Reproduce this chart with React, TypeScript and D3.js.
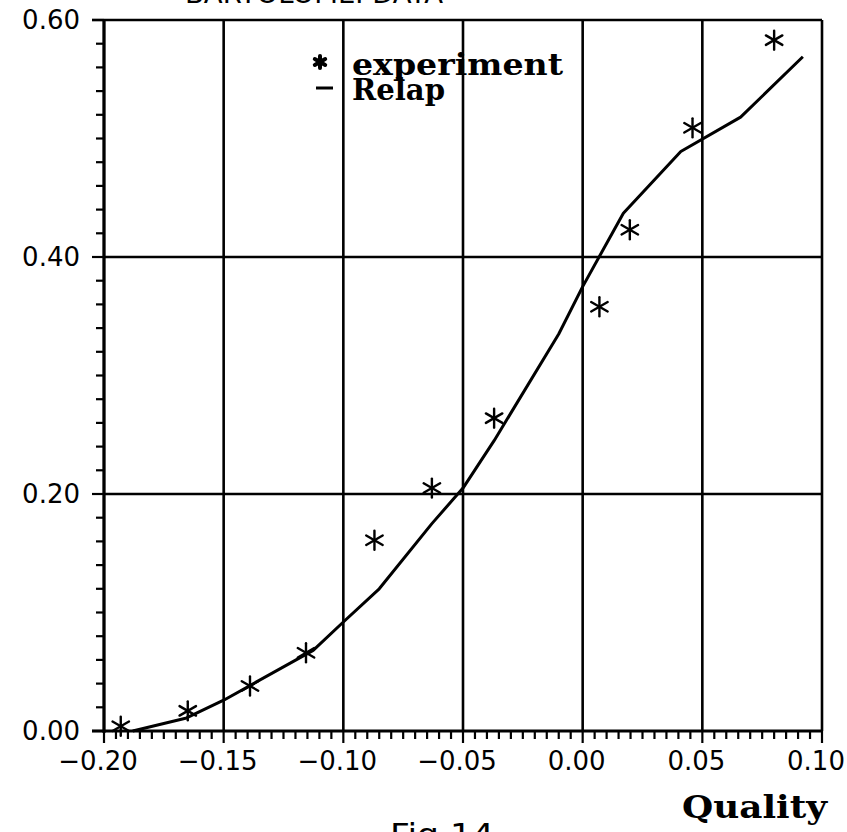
import React from "react";
import * as d3 from "d3";

// Experiment (asterisks)
const expQuality = [-0.193, -0.165, -0.139, -0.1156, -0.087, -0.063, -0.037, 0.007, 0.0197, 0.0459, 0.08];
const expValue = [0.004, 0.017, 0.038, 0.066, 0.161, 0.205, 0.264, 0.358, 0.423, 0.509, 0.583];

// Relap (solid line)
const relapQuality = [-0.188, -0.1655, -0.15, -0.1126, -0.1, -0.085, -0.063, -0.05, -0.037, -0.01, 0.0, 0.017, 0.041, 0.066, 0.092];
const relapValue = [0.0, 0.011, 0.026, 0.068, 0.092, 0.12, 0.175, 0.205, 0.245, 0.335, 0.375, 0.437, 0.489, 0.518, 0.569];

const xMajor = [-0.2, -0.15, -0.1, -0.05, 0.0, 0.05, 0.1];
const yMajor = [0.0, 0.2, 0.4, 0.6];
const yGrid = [0.2, 0.4];
const titleText = "BARTOLOMEI DATA";
const xLabel = "Quality";
const caption = "Fig.14";
const legendItems = ["experiment", "Relap"];

const W = 847;
const H = 832;
const L = 104, R = 822, T = 20, B = 731;

const fmt = (v: number) => {
  const s = Math.abs(v).toFixed(2);
  return v < -1e-9 ? "\u2212" + s : s;
};

function Asterisk({ cx, cy, r, sw }: { cx: number; cy: number; r: number; sw: number }) {
  const angles = [90, 30, -30];
  return (
    <g stroke="#000" strokeWidth={sw} strokeLinecap="round">
      {angles.map((a) => {
        const rad = (a * Math.PI) / 180;
        const dx = Math.cos(rad) * r;
        const dy = Math.sin(rad) * r;
        return <line key={a} x1={cx - dx} y1={cy - dy} x2={cx + dx} y2={cy + dy} />;
      })}
    </g>
  );
}

export default function App() {
  const x = d3.scaleLinear().domain([-0.2, 0.1]).range([L, R]);
  const y = d3.scaleLinear().domain([0, 0.6]).range([B, T]);
  const xMinor = d3.range(0, 61).map((i) => -0.2 + i * 0.005);
  const yMinor = d3.range(0, 31).map((i) => i * 0.02);
  const line = d3
    .line<number>()
    .x((d, i) => x(relapQuality[i]))
    .y((d) => y(d));

  const sans = "'DejaVu Sans', Arial, sans-serif";
  const serif = "'DejaVu Serif', 'Liberation Serif', serif";

  return (
    <svg
      width={W}
      height={H}
      viewBox={`0 0 ${W} ${H}`}
      style={{ position: "absolute", left: 0, top: 0, background: "#fff" }}
    >
      <rect x={0} y={0} width={W} height={H} fill="#fff" />
      {/* title, cut off at the top */}
      <text x={185} y={2.5} fontFamily={sans} fontSize={26} textLength={258} lengthAdjust="spacingAndGlyphs">
        {titleText}
      </text>

      {/* vertical grid lines */}
      {xMajor.map((v) => (
        <line key={"gx" + v} x1={x(v)} x2={x(v)} y1={y(0.6)} y2={y(0)} stroke="#000" strokeWidth={2.6} />
      ))}
      {/* horizontal grid lines */}
      {yGrid.map((v) => (
        <line key={"gy" + v} x1={x(-0.2)} x2={x(0.1)} y1={y(v)} y2={y(v)} stroke="#000" strokeWidth={2.4} />
      ))}
      {/* top border */}
      <line x1={x(-0.2) - 12} x2={x(0.1)} y1={y(0.6)} y2={y(0.6)} stroke="#000" strokeWidth={2.6} />
      {/* axes */}
      <line x1={x(-0.2)} x2={x(-0.2)} y1={y(0.6)} y2={y(0) + 2} stroke="#000" strokeWidth={3} />
      <line x1={x(-0.2) - 12} x2={x(0.1) + 1} y1={y(0)} y2={y(0)} stroke="#000" strokeWidth={3} />

      {/* y minor ticks */}
      {yMinor.map((v, i) => (
        <line
          key={"ym" + i}
          x1={x(-0.2) - (i % 10 === 0 ? 12 : 8)}
          x2={x(-0.2)}
          y1={y(v)}
          y2={y(v)}
          stroke="#000"
          strokeWidth={2.2}
        />
      ))}
      {/* x minor ticks */}
      {xMinor.map((v, i) => (
        <line
          key={"xm" + i}
          x1={x(v)}
          x2={x(v)}
          y1={y(0)}
          y2={y(0) + (i % 10 === 0 ? 12 : 8)}
          stroke="#000"
          strokeWidth={2.2}
        />
      ))}

      {/* y labels */}
      {yMajor.map((v) => (
        <text
          key={"yl" + v}
          x={80}
          y={y(v)}
          textAnchor="end"
          dominantBaseline="central"
          fontFamily={sans}
          fontSize={26}
        >
          {fmt(v)}
        </text>
      ))}
      {/* x labels */}
      {xMajor.map((v) => (
        <text key={"xl" + v} x={x(v) - 6} y={770} textAnchor="middle" fontFamily={sans} fontSize={26}>
          {fmt(v)}
        </text>
      ))}

      {/* Relap line */}
      <path d={line(relapValue) || ""} fill="none" stroke="#000" strokeWidth={3} strokeLinejoin="round" />

      {/* experiment markers */}
      {expValue.map((v, i) => (
        <Asterisk key={"e" + i} cx={x(expQuality[i])} cy={y(v)} r={9.5} sw={2.4} />
      ))}

      {/* legend */}
      <Asterisk cx={320} cy={62} r={6} sw={4} />
      <text x={352} y={75} fontFamily={serif} fontWeight="bold" fontSize={30} textLength={211} lengthAdjust="spacingAndGlyphs">
        {legendItems[0]}
      </text>
      <line x1={316} x2={333} y1={88} y2={88} stroke="#000" strokeWidth={3} />
      <text x={352} y={100} fontFamily={serif} fontWeight="bold" fontSize={30} textLength={93} lengthAdjust="spacingAndGlyphs">
        {legendItems[1]}
      </text>

      {/* x axis title */}
      <text x={682} y={818} fontFamily={serif} fontWeight="bold" fontSize={32} textLength={145} lengthAdjust="spacingAndGlyphs">
        {xLabel}
      </text>
      {/* caption, cut off at the bottom */}
      <text x={390} y={845} fontFamily={sans} fontSize={30} textLength={104} lengthAdjust="spacingAndGlyphs">
        {caption}
      </text>
    </svg>
  );
}
